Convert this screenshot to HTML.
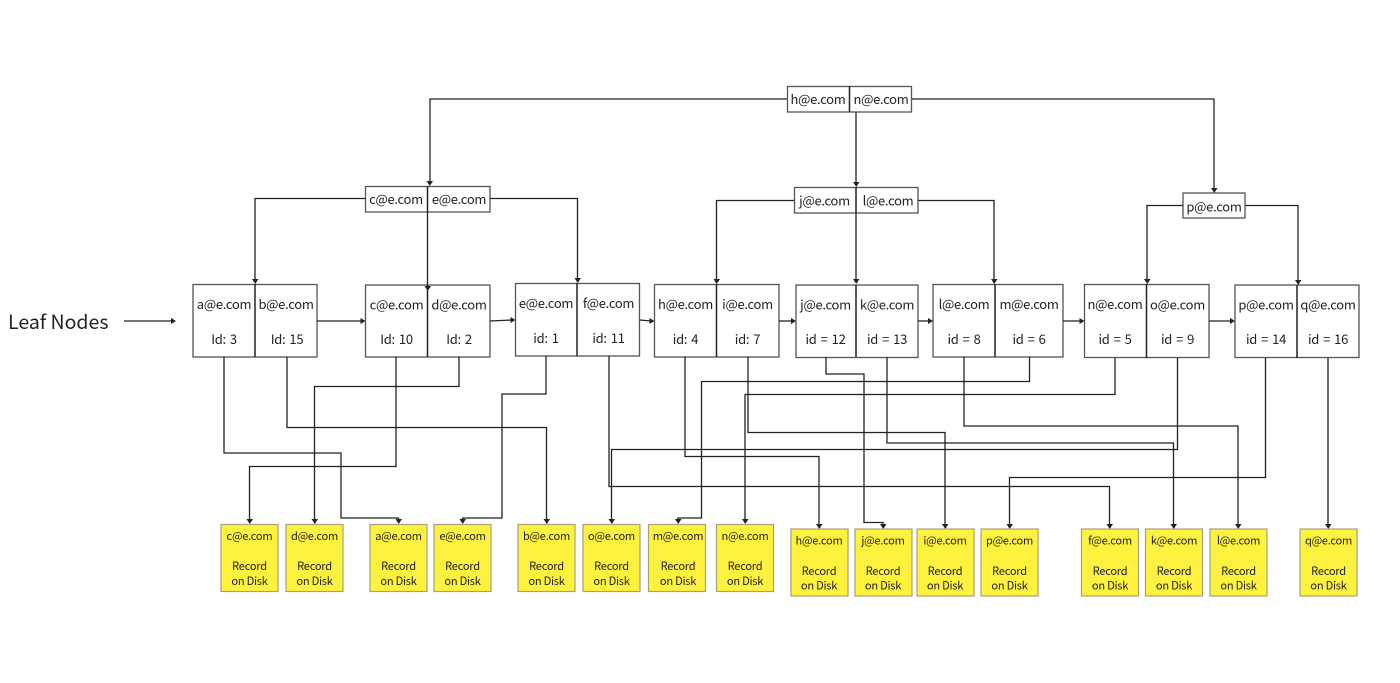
<!DOCTYPE html>
<html><head><meta charset="utf-8"><style>
html,body{margin:0;padding:0;background:#fff}
svg{display:block}
text{font-family:"Noto Sans CJK SC","Liberation Sans",sans-serif;font-size:13px;letter-spacing:-.3px;word-spacing:1.5px;fill:#222;text-anchor:middle}
.s text{font-size:11.1px;letter-spacing:-.25px;word-spacing:0}
.n rect{fill:#fff;stroke:#555;stroke-width:1.3}
.n path{fill:none;stroke:#222;stroke-width:1.5}
.r rect{fill:#fff23f;stroke:#a5a27a;stroke-width:1.2}
.c path{fill:none;stroke:#222;stroke-width:1.3}
.a path{fill:#222}
</style></head><body>
<svg width="1400" height="683" viewBox="0 0 1400 683" xmlns="http://www.w3.org/2000/svg">
<rect width="1400" height="683" fill="#fff"/>
<g class="n">
<rect x="787.5" y="86.5" width="124" height="25.5"/><path d="M849.5 86V112"/>
<rect x="365.5" y="186.5" width="124.5" height="25.5"/><path d="M427.5 186V212"/>
<rect x="794.5" y="187.5" width="123.5" height="25.5"/><path d="M856 187V213"/>
<rect x="1183" y="193" width="62" height="25"/>
<rect x="193" y="284.500" width="124" height="72.500"/><path d="M255 284V357"/>
<rect x="365.500" y="285" width="124.500" height="72"/><path d="M427.500 285V357"/>
<rect x="515.500" y="283.500" width="124" height="72.500"/><path d="M577 283V356"/>
<rect x="654.500" y="284.500" width="124.500" height="72.500"/><path d="M716.500 284V357"/>
<rect x="796" y="285" width="122" height="72.500"/><path d="M856 285V357"/>
<rect x="933" y="284.500" width="130" height="72.500"/><path d="M995 284V357"/>
<rect x="1084.500" y="284.500" width="124.500" height="73"/><path d="M1146.500 284V358"/>
<rect x="1235" y="285" width="124" height="72.500"/><path d="M1297 285V358"/>
</g>
<g class="c">
<path d="M787 99H430V182"/>
<path d="M912 99H1214V189"/>
<path d="M856 112V184"/>
<path d="M365 198.500H255V280"/>
<path d="M490 198.500H577.500V279"/>
<path d="M427.500 212V287"/>
<path d="M794 200.500H716.500V280"/>
<path d="M918 200.500H994V280"/>
<path d="M856 213V280"/>
<path d="M1183 205.500H1147V280"/>
<path d="M1245 205.500H1298V281"/>
<path d="M317 321H362"/>
<path d="M490 321L512 320"/>
<path d="M639.500 320L651 321"/>
<path d="M779 321H793"/>
<path d="M918 321H930"/>
<path d="M1063 321H1081"/>
<path d="M1209 321H1232"/>
<path d="M124 321H173"/>
<path d="M224 357V453H341V518H398.500V520"/>
<path d="M287 357V427.500H546.500V520"/>
<path d="M396 357V466.500H249.500V520"/>
<path d="M459 357V386.500H314.500V520"/>
<path d="M546 356V394H502V518H462.500V520"/>
<path d="M609 356V486.500H1109.500V525"/>
<path d="M685 357V456.500H819V525"/>
<path d="M748 357V432.500H945V525"/>
<path d="M826 357V374H864V522.500H883V525"/>
<path d="M887 357V443H1173.500V525"/>
<path d="M964 357V426H1238V525"/>
<path d="M1029.500 357V381.500H701.500V518H678V520"/>
<path d="M1115 358V394.500H745V520"/>
<path d="M1177.500 358V449.500H611.500V520"/>
<path d="M1265.500 358V477.500H1009.500V525"/>
<path d="M1328 358V525"/>
</g>
<g class="a">
<path d="M426.500 181h6.500l-3.250 5z"/>
<path d="M1211 188h6.500l-3.250 5z"/>
<path d="M853 182h6.500l-3.250 5z"/>
<path d="M252 279h6.500l-3.250 5z"/>
<path d="M574.500 278h6.500l-3.250 5z"/>
<path d="M424.500 286h6.500l-3.250 5z"/>
<path d="M713.500 279h6.500l-3.250 5z"/>
<path d="M991 279h6.500l-3.250 5z"/>
<path d="M853 279h6.500l-3.250 5z"/>
<path d="M1144 279h6.500l-3.250 5z"/>
<path d="M1295 280h6.500l-3.250 5z"/>
<path d="M360.500 318v6l5-3z"/>
<path d="M510.500 317v6l5-3z"/>
<path d="M649.500 318v6l5-3z"/>
<path d="M791 318v6l5-3z"/>
<path d="M928 318v6l5-3z"/>
<path d="M1079.500 318v6l5-3z"/>
<path d="M1230 318v6l5-3z"/>
<path d="M171 318v6l5-3z"/>
<path d="M246.500 519h6.500l-3.250 5z"/>
<path d="M311.500 519h6.500l-3.250 5z"/>
<path d="M395.500 519h6.500l-3.250 5z"/>
<path d="M459.500 519h6.500l-3.250 5z"/>
<path d="M543.500 519h6.500l-3.250 5z"/>
<path d="M608.500 519h6.500l-3.250 5z"/>
<path d="M675 519h6.500l-3.250 5z"/>
<path d="M742 519h6.500l-3.250 5z"/>
<path d="M816 524h6.500l-3.250 5z"/>
<path d="M880 524h6.500l-3.250 5z"/>
<path d="M942 524h6.500l-3.250 5z"/>
<path d="M1006.500 524h6.500l-3.250 5z"/>
<path d="M1106.500 524h6.500l-3.250 5z"/>
<path d="M1170.500 524h6.500l-3.250 5z"/>
<path d="M1235 524h6.500l-3.250 5z"/>
<path d="M1325 524h6.500l-3.250 5z"/>
</g>
<g class="r">
<rect x="221" y="524.500" width="57" height="67"/>
<rect x="286" y="524.500" width="57" height="67"/>
<rect x="370" y="524.500" width="57" height="67"/>
<rect x="434" y="524.500" width="57" height="67"/>
<rect x="518" y="524.500" width="57" height="67"/>
<rect x="583" y="524.500" width="57" height="67"/>
<rect x="648.500" y="524.500" width="57" height="67"/>
<rect x="716.500" y="524.500" width="57" height="67"/>
<rect x="791" y="529" width="57" height="67"/>
<rect x="855" y="529" width="57" height="67"/>
<rect x="917" y="529" width="57" height="67"/>
<rect x="981" y="529" width="57" height="67"/>
<rect x="1081.500" y="529" width="57" height="67"/>
<rect x="1145.500" y="529" width="57" height="67"/>
<rect x="1210" y="529" width="57" height="67"/>
<rect x="1300" y="529" width="57" height="67"/>
</g>
<g>
<text x="818" y="104">h@e.com</text><text x="881" y="104">n@e.com</text>
<text x="396" y="204">c@e.com</text><text x="459" y="204">e@e.com</text>
<text x="824.500" y="205.500">j@e.com</text><text x="888" y="205.500">l@e.com</text>
<text x="1214" y="211.500">p@e.com</text>
<text x="224" y="309">a@e.com</text><text x="286" y="309">b@e.com</text>
<text x="224" y="344">Id: 3</text><text x="287" y="344">Id: 15</text>
<text x="396.500" y="309.500">c@e.com</text><text x="459" y="309.500">d@e.com</text>
<text x="396.500" y="344">Id: 10</text><text x="459" y="344">Id: 2</text>
<text x="546" y="308">e@e.com</text><text x="608.500" y="308">f@e.com</text>
<text x="546" y="343">id: 1</text><text x="608.500" y="343">id: 11</text>
<text x="685.500" y="309">h@e.com</text><text x="747.500" y="309">i@e.com</text>
<text x="685.500" y="344">id: 4</text><text x="747.500" y="344">id: 7</text>
<text x="825.500" y="309.500">j@e.com</text><text x="887" y="309.500">k@e.com</text>
<text x="825.500" y="344">id = 12</text><text x="887" y="344">id = 13</text>
<text x="964" y="309">l@e.com</text><text x="1029" y="309">m@e.com</text>
<text x="964" y="344">id = 8</text><text x="1029" y="344">id = 6</text>
<text x="1115" y="309">n@e.com</text><text x="1177.500" y="309.500">o@e.com</text>
<text x="1115" y="344">id = 5</text><text x="1177.500" y="344">id = 9</text>
<text x="1266" y="309.500">p@e.com</text><text x="1328" y="309.500">q@e.com</text>
<text x="1266" y="344">id = 14</text><text x="1328" y="344">id = 16</text>
<g class="s">
<text x="249.500" y="540">c@e.com</text><text x="249.500" y="570">Record</text><text x="249.500" y="585">on Disk</text>
<text x="314.500" y="540">d@e.com</text><text x="314.500" y="570">Record</text><text x="314.500" y="585">on Disk</text>
<text x="398.500" y="540">a@e.com</text><text x="398.500" y="570">Record</text><text x="398.500" y="585">on Disk</text>
<text x="462.500" y="540">e@e.com</text><text x="462.500" y="570">Record</text><text x="462.500" y="585">on Disk</text>
<text x="546.500" y="540">b@e.com</text><text x="546.500" y="570">Record</text><text x="546.500" y="585">on Disk</text>
<text x="611.500" y="540">o@e.com</text><text x="611.500" y="570">Record</text><text x="611.500" y="585">on Disk</text>
<text x="678" y="540">m@e.com</text><text x="678" y="570">Record</text><text x="678" y="585">on Disk</text>
<text x="745" y="540">n@e.com</text><text x="745" y="570">Record</text><text x="745" y="585">on Disk</text>
<text x="819" y="544.500">h@e.com</text><text x="819" y="575">Record</text><text x="819" y="589.500">on Disk</text>
<text x="883" y="544.500">j@e.com</text><text x="883" y="575">Record</text><text x="883" y="589.500">on Disk</text>
<text x="945" y="544.500">i@e.com</text><text x="945" y="575">Record</text><text x="945" y="589.500">on Disk</text>
<text x="1009.500" y="544.500">p@e.com</text><text x="1009.500" y="575">Record</text><text x="1009.500" y="589.500">on Disk</text>
<text x="1110" y="544.500">f@e.com</text><text x="1110" y="575">Record</text><text x="1110" y="589.500">on Disk</text>
<text x="1174" y="544.500">k@e.com</text><text x="1174" y="575">Record</text><text x="1174" y="589.500">on Disk</text>
<text x="1238.500" y="544.500">l@e.com</text><text x="1238.500" y="575">Record</text><text x="1238.500" y="589.500">on Disk</text>
<text x="1328.500" y="544.500">q@e.com</text><text x="1328.500" y="575">Record</text><text x="1328.500" y="589.500">on Disk</text>
</g>
<text x="8" y="329" style="font-size:19.500px;letter-spacing:0;word-spacing:0;text-anchor:start">Leaf Nodes</text>
</g>
</svg>
</body></html>
